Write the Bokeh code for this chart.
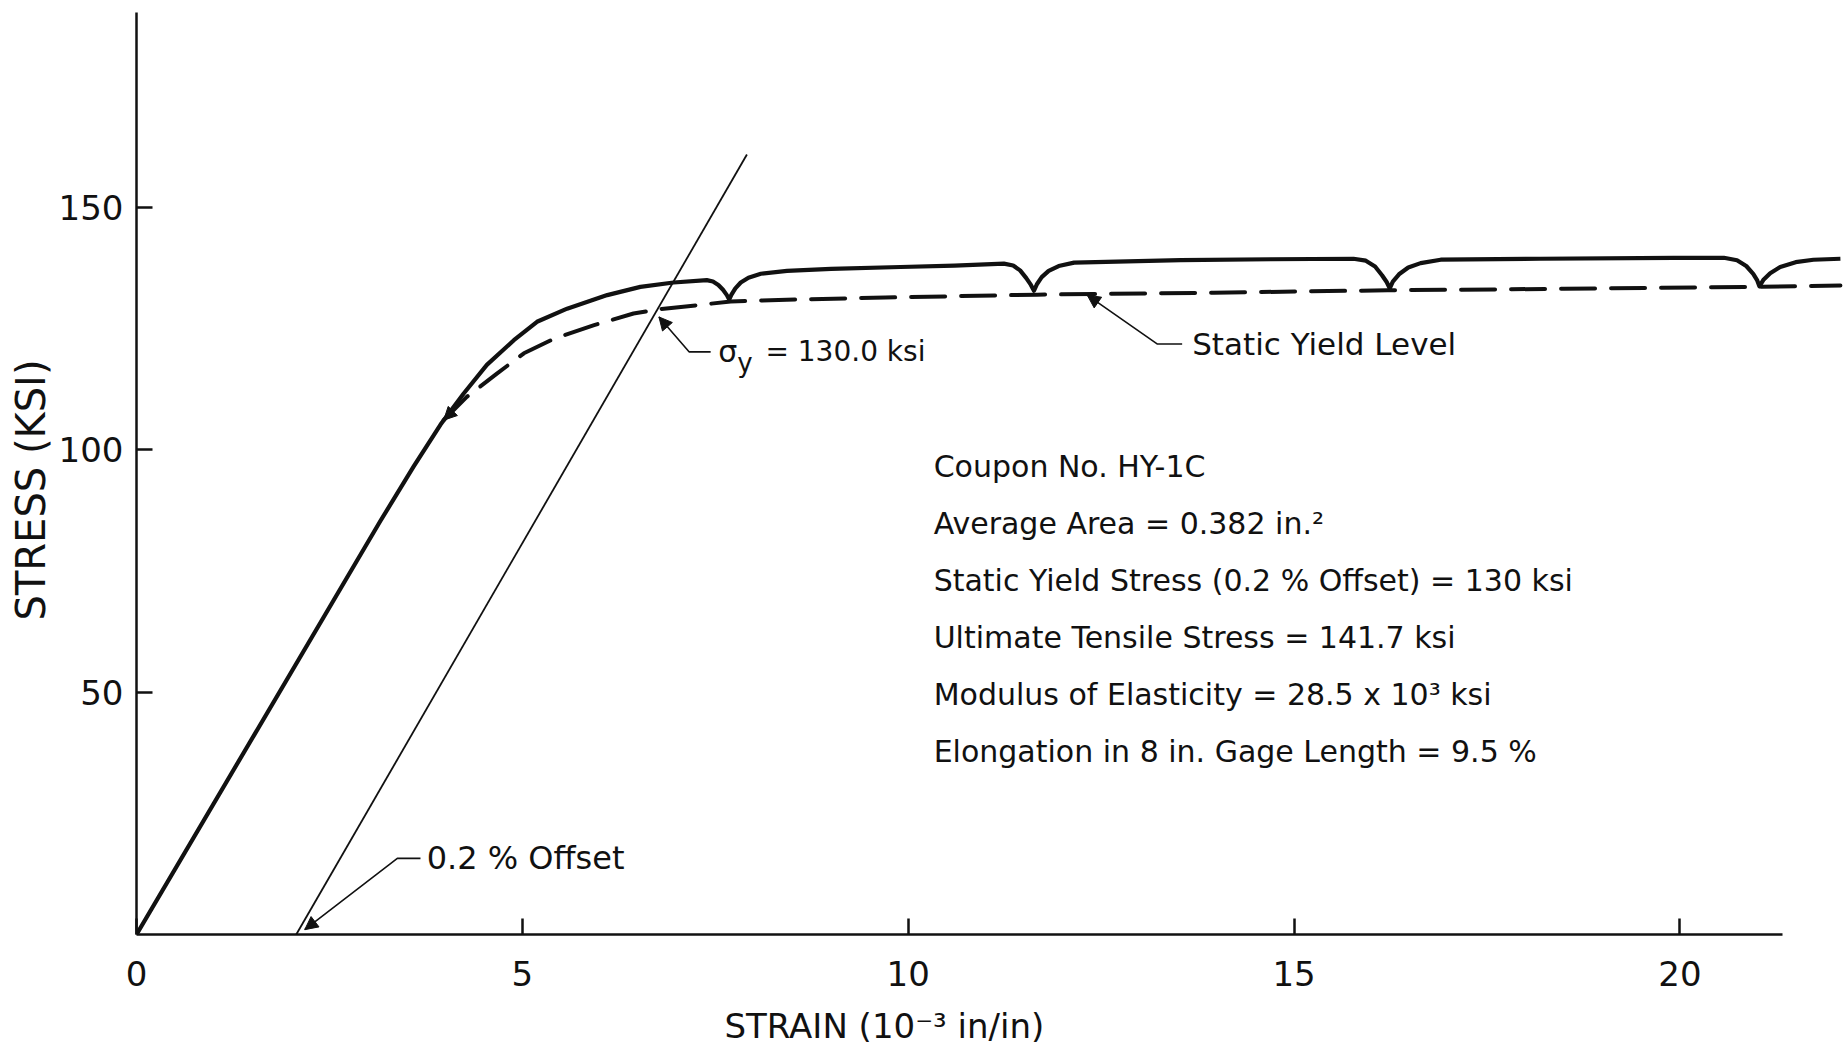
from bokeh.plotting import figure
from bokeh.models import Range1d, FixedTicker, Label, Arrow, NormalHead, Title
from bokeh.embed import file_html
from bokeh.resources import INLINE

# ---------------- data ----------------
# tension test curve (solid)
test_strain = [0, 3.16, 3.59, 3.94, 4.24, 4.54, 4.89, 5.19, 5.58, 6.10, 6.53, 6.96, 7.39,
               7.47, 7.54, 7.60, 7.65, 7.68, 7.71, 7.76, 7.83, 7.93, 8.09, 8.43, 9.0,
               9.9, 10.6, 11.24, 11.36, 11.45, 11.53, 11.59, 11.63, 11.67, 11.73, 11.82,
               11.95, 12.15, 13.53, 14.7, 15.77, 15.93, 16.05, 16.14, 16.20, 16.24, 16.28,
               16.36, 16.48, 16.64, 16.9, 18.19, 19.92, 20.57, 20.74, 20.86, 20.95, 21.00,
               21.03, 21.08, 21.17, 21.30, 21.50, 21.73, 22.08]
test_stress = [0, 85.3, 96.5, 105.2, 111.6, 117.5, 122.6, 126.4, 129.1, 131.9, 133.6, 134.5, 135.0,
               134.7, 134.0, 133.0, 131.9, 131.0, 132.0, 133.3, 134.5, 135.5, 136.3, 136.9, 137.3,
               137.7, 138.0, 138.4, 138.0, 137.0, 135.4, 134.0, 132.8, 134.2, 135.6, 136.9,
               137.9, 138.6, 139.1, 139.3, 139.4, 139.0, 137.8, 136.0, 134.6, 133.3, 134.7,
               136.2, 137.6, 138.5, 139.2, 139.4, 139.6, 139.6, 139.1, 137.9, 136.3, 135.0,
               133.7, 135.0, 136.4, 137.7, 138.7, 139.2, 139.4]

# static yield level (dashed)
static_strain = [3.98, 4.28, 4.67, 5.02, 5.41, 5.93, 6.44, 6.77, 7.26, 7.70, 8.56, 9.7,
                 11.67, 13.96, 16.21, 18.5, 21.0, 22.08]
static_stress = [106.1, 110.9, 115.7, 119.9, 122.9, 125.7, 128.1, 129.0, 129.8, 130.6, 131.0,
                 131.4, 132.0, 132.4, 132.9, 133.2, 133.6, 133.9]

# 0.2 % offset line
offset_strain = [2.07, 7.91]
offset_stress = [0, 160.9]

x_ticks = [0, 5, 10, 15, 20]
y_ticks = [50, 100, 150]

x_title = "STRAIN  (10\u207b\u00b3 in/in)"
y_title = "STRESS (KSI)"

info_lines = [
    "Coupon No. HY-1C",
    "Average Area = 0.382 in.\u00b2",
    "Static Yield Stress (0.2 % Offset) = 130 ksi",
    "Ultimate Tensile Stress = 141.7 ksi",
    "Modulus of Elasticity = 28.5 x 10\u00b3 ksi",
    "Elongation in 8 in. Gage Length = 9.5 %",
]
info_y = [96.6, 84.8, 73.1, 61.3, 49.6, 37.8]

assert len(test_strain) == len(test_stress)
assert len(static_strain) == len(static_stress)

FONT = "DejaVu Sans"
INK = "#111111"

p = figure(width=1843, height=1060, output_backend="svg", toolbar_location=None,
           x_range=Range1d(0, 22.12), y_range=Range1d(0, 190.2),
           min_border_left=136, min_border_right=0, min_border_top=12,
           min_border_bottom=125)
p.outline_line_color = None
p.grid.visible = False
p.background_fill_color = "white"
p.border_fill_color = "white"

for ax in (p.xaxis[0], p.yaxis[0]):
    ax.axis_line_width = 2.5
    ax.axis_line_color = INK
    ax.major_tick_line_width = 2.5
    ax.major_tick_line_color = INK
    ax.major_tick_in = 16
    ax.major_tick_out = 0
    ax.minor_tick_line_color = None
    ax.major_label_text_font = FONT
    ax.major_label_text_font_size = "34px"
    ax.major_label_text_color = INK

p.xaxis.ticker = FixedTicker(ticks=x_ticks)
p.yaxis.ticker = FixedTicker(ticks=y_ticks)
p.xaxis.bounds = (0, 21.33)
p.xaxis.major_label_standoff = 26
p.yaxis.major_label_standoff = 13

# axis titles as side titles (so they can sit off-centre like the reference)
p.add_layout(Title(text=x_title, align="left", offset=588, standoff=30,
                   text_font=FONT, text_font_size="34px", text_font_style="normal",
                   text_color=INK), "below")
p.add_layout(Title(text=y_title, align="left", offset=314, standoff=3,
                   text_font=FONT, text_font_size="40px", text_font_style="normal",
                   text_color=INK), "left")

# curves
p.line(offset_strain, offset_stress, line_width=1.8, line_color=INK)
p.line(test_strain, test_stress, line_width=4.2, line_color=INK, line_join="round")
p.line(static_strain, static_stress, line_width=4.0, line_color=INK,
       line_dash="34 16", line_cap="round")

# arrow at the start of the static yield curve
p.add_layout(Arrow(x_start=static_strain[1], y_start=static_stress[1],
                   x_end=static_strain[0], y_end=static_stress[0],
                   line_alpha=0,
                   end=NormalHead(size=13, fill_color=INK, line_color=INK, line_width=1)))

# leader annotations: (end, knee, tip)
def leader(end, knee, tip):
    p.line([end[0], knee[0], tip[0]], [end[1], knee[1], tip[1]],
           line_width=1.6, line_color=INK)
    p.add_layout(Arrow(x_start=knee[0], y_start=knee[1], x_end=tip[0], y_end=tip[1],
                       line_alpha=0,
                       end=NormalHead(size=13, fill_color=INK, line_color=INK, line_width=1)))

leader((7.44, 120.2), (7.16, 120.2), (6.77, 127.4))
leader((13.55, 121.8), (13.23, 121.8), (12.32, 131.9))
leader((3.68, 15.7), (3.38, 15.7), (2.18, 1.0))

def label(x, y, text, size="30px", **kw):
    kw.setdefault("text_baseline", "middle")
    p.add_layout(Label(x=x, y=y, text=text, text_font=FONT, text_font_size=size,
                       text_color=INK, **kw))

label(7.54, 120.2, "\u03c3")
label(7.54, 120.2, "y", size="26px", x_offset=19, y_offset=-11)
label(8.15, 120.2, "= 130.0 ksi", size="28px")
label(13.68, 121.8, "Static Yield Level", size="31px")
label(3.76, 15.7, "0.2 % Offset", size="32px")

for txt, yy in zip(info_lines, info_y):
    label(10.33, yy, txt, size="30px", text_baseline="alphabetic")

open("out.html", "w").write(file_html(p, INLINE))
